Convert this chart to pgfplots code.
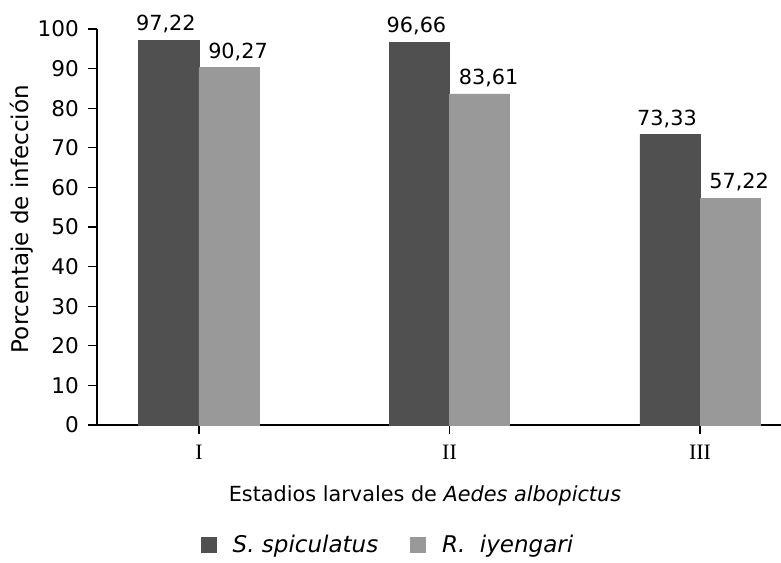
\documentclass[border=0pt]{standalone}
\usepackage{pgfplots}
\pgfplotsset{compat=1.18}
\usepackage{fontspec}
\setmainfont{DejaVu Sans}
\newfontfamily\serifnum{Liberation Serif}
\definecolor{darkbar}{HTML}{505050}
\definecolor{lightbar}{HTML}{999999}
\begin{document}
\begin{tikzpicture}
\begin{axis}[
  name=ax,
  at={(0,0)}, anchor=south west,
  scale only axis,
  width=342pt, height=198pt,
  xmin=-0.407, xmax=2.323,
  ymin=0, ymax=100,
  ybar=0pt,
  axis x line*=bottom, axis y line*=left,
  axis line style={-, line width=1pt, black},
  ytick={0,10,...,100},
  xtick={0,1,2},
  xticklabels={I,II,III},
  tick align=outside,
  major tick length=4.5pt,
  tick style={black, line width=0.6pt},
  /pgf/number format/assume math mode=true,
  yticklabel style={font=\fontsize{10.8}{12}\selectfont, xshift=-1pt},
  xticklabel style={font=\serifnum\fontsize{11}{12}\selectfont, yshift=-2pt},
  ylabel={Porcentaje de infección},
  ylabel style={font=\fontsize{11.5}{13}\selectfont, at={(axis description cs:-0.1096,0.52)}, anchor=center},
  xlabel={Estadios larvales de \textit{Aedes albopictus}},
  xlabel style={font=\fontsize{10.4}{12}\selectfont, at={(axis description cs:0.4795,0)}, anchor=north, yshift=-27pt},
  bar width=0.24,
  nodes near coords={\pgfmathprintnumber[fixed,fixed zerofill,precision=2,use comma]{\pgfplotspointmeta}},
  nodes near coords style={font=\fontsize{10.4}{12}\selectfont, black, yshift=0pt},
  legend style={at={(axis description cs:0.427,-0.303)}, anchor=center, draw=none,
    font=\fontsize{11.5}{13}\selectfont\itshape, legend columns=2,
    /tikz/every odd column/.append style={column sep=6pt},
    /tikz/every even column/.append style={column sep=14pt}},
  legend image code/.code={\fill[#1] (0pt,-3.75pt) rectangle (7.5pt,3.75pt);},
]
\addplot[fill=darkbar, draw=darkbar, bar shift=-0.12,
  every node near coord/.append style={xshift=-1.5pt}] coordinates {(0,97.22) (1,96.66) (2,73.33)};
\addlegendentry{S. spiculatus}
\addplot[fill=lightbar, draw=lightbar, bar shift=0.12,
  every node near coord/.append style={xshift=4.5pt}] coordinates {(0,90.27) (1,83.61) (2,57.22)};
\addlegendentry{R.\ \ iyengari}
\end{axis}
\pgfresetboundingbox
\path ([shift={(-48.5pt,-68.5pt)}]ax.south west) rectangle ([shift={(0pt,14.5pt)}]ax.north east);
\end{tikzpicture}
\end{document}
